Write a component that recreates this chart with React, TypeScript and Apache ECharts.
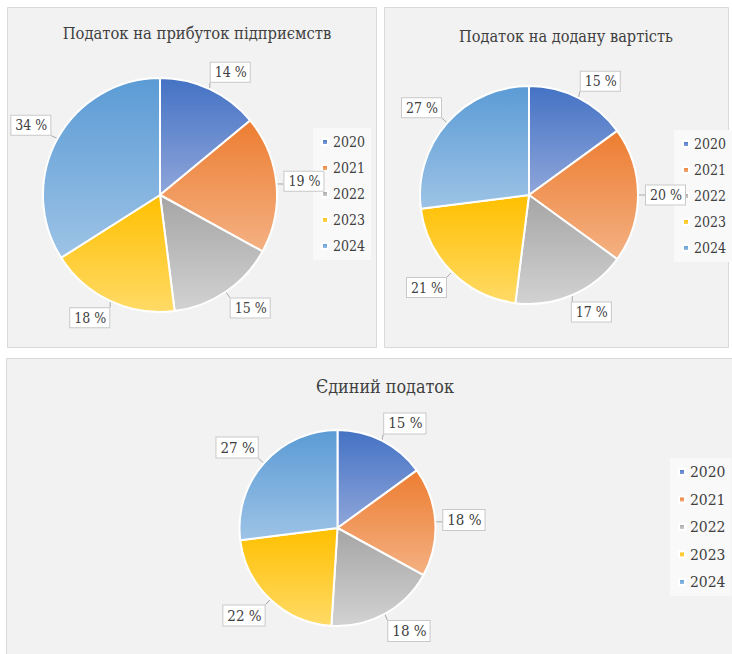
import React, { useEffect, useRef } from "react";
import * as echarts from "echarts";

const years = ["2020", "2021", "2022", "2023", "2024"];
const profitTax = [14, 19, 15, 18, 34];
const vatTax = [15, 20, 17, 21, 27];
const singleTax = [15, 18, 18, 22, 27];
const titles = ["Податок на прибуток підприємств", "Податок на додану вартість", "Єдиний податок"];

const topColors = ["#4472C4", "#ED7D31", "#A5A5A5", "#FFC000", "#5B9BD5"];
const bottomColors = ["#8FA6DA", "#F4B183", "#D2D2D2", "#FFDA66", "#9DC3E6"];

const FONT = "DejaVu Serif Condensed";

function grad(i: number) {
  return new echarts.graphic.LinearGradient(0, 0, 0, 1, [
    { offset: 0, color: topColors[i] },
    { offset: 1, color: bottomColors[i] },
  ]);
}

type PieGeom = { values: number[]; center: [number, number]; radius: number; gap: number };

function makePie(g: PieGeom, fontSize: number) {
  const total = g.values.reduce((a, b) => a + b, 0);
  const mids: number[] = [];
  let cum = 0;
  g.values.forEach((v) => {
    mids.push(((cum + v / 2) / total) * Math.PI * 2);
    cum += v;
  });
  return {
    type: "pie",
    z: 3,
    center: g.center,
    radius: g.radius,
    startAngle: 90,
    clockwise: true,
    avoidLabelOverlap: false,
    data: g.values.map((v, i) => ({
      name: years[i],
      value: v,
      itemStyle: { color: grad(i) },
    })),
    itemStyle: { borderColor: "#ffffff", borderWidth: 2 },
    label: {
      show: true,
      position: "outside",
      formatter: "{c} %",
      fontFamily: FONT,
      fontSize,
      color: "#404040",
      backgroundColor: "#ffffff",
      borderColor: "#c9c9c9",
      borderWidth: 1,
      padding: [3, 3, 2, 4],
    },
    labelLine: {
      show: true,
      length: 10,
      length2: 5,
      lineStyle: { color: "#a6a6a6", width: 1 },
    },
    labelLayout: (params: any) => {
      const a = mids[params.dataIndex];
      const ux = Math.sin(a);
      const uy = -Math.cos(a);
      const [cx, cy] = g.center;
      const sx = cx + ux * g.radius;
      const sy = cy + uy * g.radius;
      const w = params.labelRect.width;
      const h = params.labelRect.height;
      const kx = Math.sign(ux) * Math.min(1, Math.abs(ux) * 2);
      const ky = Math.sign(uy) * Math.min(1, Math.abs(uy) * 2);
      const lx = sx + ux * g.gap + kx * (w / 2);
      const ly = sy + uy * g.gap + ky * (h / 2);
      const x0 = lx - w / 2, x1 = lx + w / 2, y0 = ly - h / 2, y1 = ly + h / 2;
      const ex = Math.min(Math.max(sx, x0), x1);
      const ey = Math.min(Math.max(sy, y0), y1);
      return {
        x: lx,
        y: ly,
        align: "center",
        verticalAlign: "middle",
        labelLinePoints: [
          [sx, sy],
          [(sx + ex) / 2, (sy + ey) / 2],
          [ex, ey],
        ],
      };
    },
    emphasis: { disabled: true },
  };
}

function makeLegend(left: number, top: number, gap: number, fontSize: number) {
  return {
    z: 1,
    orient: "vertical",
    left,
    top,
    data: years,
    icon: "rect",
    itemWidth: 6,
    itemHeight: 6,
    itemGap: gap,
    padding: [6, 6, 6, 8],
    backgroundColor: "#f9f9f9",
    selectedMode: false,
    textStyle: { fontFamily: FONT, fontSize, color: "#404040", lineHeight: 16 },
  };
}

export default function App() {
  const ref = useRef<HTMLDivElement>(null);
  useEffect(() => {
    if (!ref.current) return;
    const chart = echarts.init(ref.current, undefined, { renderer: "svg" });
    const panel = (x: number, y: number, w: number, h: number) => ({
      type: "rect",
      z: -10,
      shape: { x, y, width: w, height: h },
      style: { fill: "#f2f2f2", stroke: "#d9d9d9", lineWidth: 1 },
    });
    const titleStyle = (size: number) => ({ fontFamily: FONT, fontSize: size, fontWeight: "normal", color: "#404040" });
    chart.setOption({
      animation: false,
      backgroundColor: "#ffffff",
      graphic: [
        panel(7.5, 7.5, 369, 340),
        panel(384.5, 7.5, 344, 340),
        panel(6.5, 358.5, 730, 300),
      ],
      title: [
        { text: titles[0], left: 192, top: 20, textAlign: "center", textStyle: titleStyle(16.4) },
        { text: titles[1], left: 561, top: 23, textAlign: "center", textStyle: titleStyle(16.2) },
        { text: titles[2], left: 380, top: 372, textAlign: "center", textStyle: titleStyle(17.8) },
      ],
      legend: [
        makeLegend(313, 128, 10, 14),
        makeLegend(674, 130, 10, 14),
        makeLegend(670, 458, 11.5, 15.5),
      ],
      series: [
        makePie({ values: profitTax, center: [160, 195], radius: 117, gap: 7 }, 14),
        makePie({ values: vatTax, center: [529, 195], radius: 109, gap: 7 }, 14),
        makePie({ values: singleTax, center: [337.5, 528], radius: 98, gap: 7 }, 15),
      ],
    });
    return () => chart.dispose();
  }, []);
  return (
    <div
      ref={ref}
      style={{ position: "fixed", left: 0, top: 0, width: 732, height: 654 }}
    />
  );
}
